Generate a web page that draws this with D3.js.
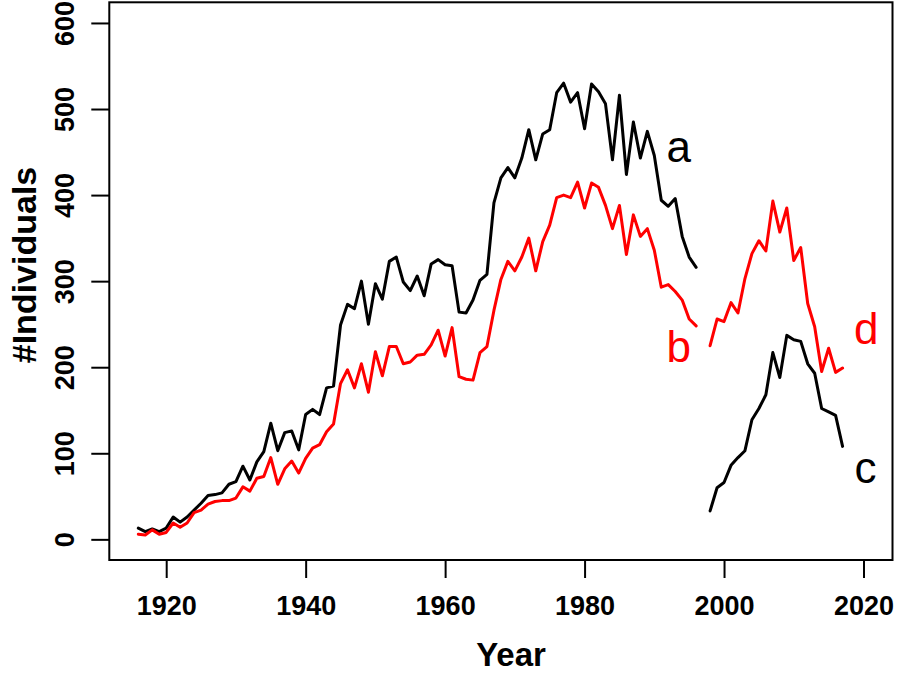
<!DOCTYPE html>
<head>
    <meta charset="utf-8">
    <title>Individuals per year</title>
    <style>
        body { margin: 0; background: #fff; }
        text { font-family: "Liberation Sans", Arial, Helvetica, sans-serif; }
    </style>
    <script src="https://d3js.org/d3.v7.min.js"></script>
</head>
<body>
    <script>
        // series a and b run 1916-1996, c and d run 1998-2017
        var startAB = 1916;
        var startCD = 1998;

        var seriesA = [13, 9, 12, 9, 13, 26, 20, 26, 34, 42,
            51, 52, 54, 64, 67, 85, 69, 90, 102, 135,
            103, 124, 126, 104, 145, 151, 145, 176, 178, 249,
            273, 268, 300, 250, 297, 279, 323, 328, 299, 289,
            306, 283, 320, 325, 319, 318, 264, 263, 278, 301,
            308, 391, 420, 432, 420, 443, 476, 441, 471, 476,
            519, 530, 508, 519, 477, 529, 520, 506, 441, 516,
            424, 485, 443, 474, 446, 394, 387, 396, 352, 328,
            316];

        var seriesB = [6, 5, 11, 6, 8, 19, 14, 19, 31, 34,
            41, 44, 45, 45, 48, 61, 56, 71, 73, 95,
            64, 82, 91, 77, 94, 106, 110, 125, 134, 181,
            197, 176, 204, 171, 218, 190, 224, 224, 204, 206,
            214, 215, 226, 243, 213, 246, 189, 186, 185, 217,
            224, 266, 302, 323, 312, 328, 350, 312, 346, 365,
            397, 400, 397, 415, 385, 414, 409, 388, 361, 388,
            331, 377, 352, 361, 336, 293, 296, 288, 278, 256,
            248];

        var seriesC = [33, 60, 66, 86, 95, 103, 139, 152, 168, 217,
            188, 237, 232, 230, 204, 193, 152, 148, 144, 108];

        var seriesD = [225, 256, 253, 275, 263, 303, 332, 347, 335, 393,
            357, 385, 324, 339, 274, 247, 195, 222, 194, 199];

        var xTicks = [1920, 1940, 1960, 1980, 2000, 2020];
        var yTicks = [0, 100, 200, 300, 400, 500, 600];

        var width = 898, height = 674;
        var plotL = 109.3, plotR = 892.5, plotT = 2.3, plotB = 560;

        var x = d3.scaleLinear()
            .domain([1911.84, 2024.16])
            .range([plotL, plotR]);

        var y = d3.scaleLinear()
            .domain([-24, 624])
            .range([plotB, plotT]);

        var svg = d3.select("body")
            .append("svg")
            .attr("width", width)
            .attr("height", height);

        svg.append("rect")
            .attr("width", width)
            .attr("height", height)
            .attr("fill", "#fff");

        var x_axis = svg.append("g")
            .attr("transform", "translate(0," + plotB + ")")
            .call(d3.axisBottom(x).tickValues(xTicks).tickFormat(d3.format("d"))
                .tickSize(18).tickSizeOuter(0));
        x_axis.select(".domain").remove();
        x_axis.selectAll("line").attr("stroke-width", 2);
        x_axis.selectAll("text")
            .attr("y", 55)
            .attr("dy", 0)
            .attr("fill", "#000")
            .style("font-size", "27px")
            .style("font-weight", "bold");

        var y_axis = svg.append("g")
            .attr("transform", "translate(" + plotL + ",0)")
            .call(d3.axisLeft(y).tickValues(yTicks).tickSize(18).tickSizeOuter(0));
        y_axis.select(".domain").remove();
        y_axis.selectAll("line").attr("stroke-width", 2);
        y_axis.selectAll("text")
            .attr("transform", "rotate(-90)")
            .attr("x", 0)
            .attr("y", -35.3)
            .attr("dy", 0)
            .attr("text-anchor", "middle")
            .attr("fill", "#000")
            .style("font-size", "27px")
            .style("font-weight", "bold");

        var line = d3.line()
            .x(d => x(d.year))
            .y(d => y(d.value));

        function toPoints(values, start) {
            return values.map((v, i) => ({ year: start + i, value: v }));
        }

        var series = [
            { values: seriesA, start: startAB, color: "#000" },
            { values: seriesB, start: startAB, color: "#ff0000" },
            { values: seriesC, start: startCD, color: "#000" },
            { values: seriesD, start: startCD, color: "#ff0000" }
        ];

        var lines = svg.append("g").attr("id", "lines");
        lines.selectAll("path")
            .data(series)
            .enter()
            .append("path")
            .attr("d", d => line(toPoints(d.values, d.start)))
            .attr("fill", "none")
            .attr("stroke", d => d.color)
            .attr("stroke-width", 3)
            .attr("stroke-linejoin", "round")
            .attr("stroke-linecap", "round");

        // series letters
        var letters = [
            { text: "a", year: 1993.5, value: 438, color: "#000" },
            { text: "b", year: 1993.5, value: 206, color: "#ff0000" },
            { text: "d", year: 2020.4, value: 227, color: "#ff0000" },
            { text: "c", year: 2020.3, value: 66, color: "#000" }
        ];
        svg.selectAll(".letter")
            .data(letters)
            .enter()
            .append("text")
            .attr("class", "letter")
            .attr("x", d => x(d.year))
            .attr("y", d => y(d.value))
            .attr("text-anchor", "middle")
            .attr("fill", d => d.color)
            .style("font-size", "44px")
            .text(d => d.text);

        svg.append("rect")
            .attr("x", plotL)
            .attr("y", plotT)
            .attr("width", plotR - plotL)
            .attr("height", plotB - plotT)
            .attr("fill", "none")
            .attr("stroke", "#000")
            .attr("stroke-width", 2);

        svg.append("text")
            .attr("x", 511)
            .attr("y", 666)
            .attr("text-anchor", "middle")
            .style("font-size", "33px")
            .style("font-weight", "bold")
            .text("Year");

        svg.append("text")
            .attr("transform", "translate(36,265) rotate(-90)")
            .attr("text-anchor", "middle")
            .style("font-size", "34px")
            .style("font-weight", "bold")
            .text("#Individuals");
    </script>
</body>
